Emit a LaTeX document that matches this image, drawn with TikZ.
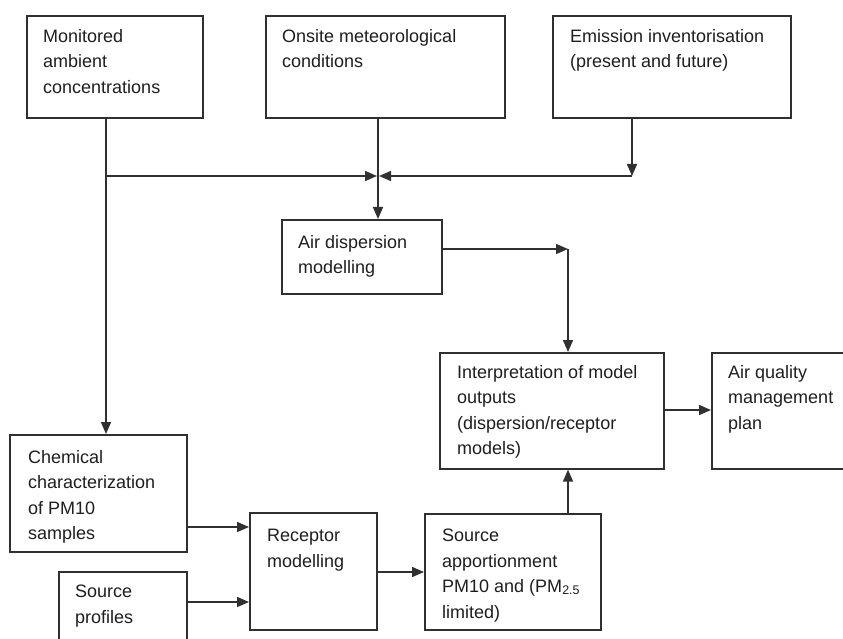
\documentclass[tikz,border=0pt]{standalone}
\usepackage{fontspec}
\setmainfont{Liberation Sans}
\usetikzlibrary{arrows.meta,calc}
\definecolor{lc}{HTML}{303030}
\definecolor{tc}{HTML}{1e1e1e}
\begin{document}
\begin{tikzpicture}[x=1pt,y=-1pt,
  box/.style={draw=lc,line width=1.6pt,anchor=north west,inner sep=0pt,minimum width=#1},
  lbl/.style={anchor=north west,inner sep=0pt,align=left,text=tc,font=\fontsize{18}{25.5}\selectfont},
  arr/.style={draw=lc,line width=1.6pt,-{Triangle[length=12pt,width=10pt]}},
  ln/.style={draw=lc,line width=1.6pt}]
\useasboundingbox (0,0) rectangle (843,639);
\clip (0,0) rectangle (843,639);
% boxes
\node[box=176pt,minimum height=102pt] (mon) at (26,15) {};
\node[box=239pt,minimum height=102pt] (ons) at (265,15) {};
\node[box=238pt,minimum height=102pt] (emi) at (552,15) {};
\node[box=160pt,minimum height=74pt] (air) at (281,219) {};
\node[box=224pt,minimum height=116pt] (int) at (439,352) {};
\node[box=150pt,minimum height=116pt] (aqm) at (711,352) {};
\node[box=177pt,minimum height=117pt] (chem) at (9,434) {};
\node[box=128pt,minimum height=90pt] (src) at (58,571) {};
\node[box=127pt,minimum height=117pt] (rec) at (249,512) {};
\node[box=176pt,minimum height=116pt] (sa) at (424,513) {};
% labels
\node[lbl] (monT) at (43,29) {Monitored\\ambient\\concentrations};
\node[lbl] (onsT) at (282,29) {Onsite meteorological\\conditions};
\node[lbl] (emiT) at (570,29) {Emission inventorisation\\(present and future)};
\node[lbl] (airT) at (298,235) {Air dispersion\\modelling};
\node[lbl] (intT) at (457,365) {Interpretation of model\\outputs\\(dispersion/receptor\\models)};
\node[lbl] (aqmT) at (728,365) {Air quality\\management\\plan};
\node[lbl] (chemT) at (28,450) {Chemical\\characterization\\of PM10\\samples};
\node[lbl] (srcT) at (75,585) {Source\\profiles};
\node[lbl] (recT) at (267,529) {Receptor\\modelling};
\node[lbl] (saT) at (442,529) {Source\\apportionment\\PM10 and (PM\raisebox{-2pt}{\fontsize{12.5}{12.5}\selectfont 2.5}\\limited)};
% junction coordinates
\coordinate (jm) at (106,176);
\coordinate (jc) at (378,176);
\coordinate (je) at (632,176);
\coordinate (ja) at (568,249);
% connectors
\draw[ln] (jm |- mon.south) -- (jm);
\draw[arr] (jm) -- ($(jc)+(-1,0)$);
\draw[arr] (je |- emi.south) -- (je);
\draw[arr] (je) -- ($(jc)+(1,0)$);
\draw[arr] (jc |- ons.south) -- (jc |- air.north);
\draw[arr] (jm) -- (jm |- chem.north);
\draw[arr] (air.east |- ja) -- (ja);
\draw[arr] (ja) -- (ja |- int.north);
\draw[arr] (int.east |- 0,410) -- (aqm.west |- 0,410);
\draw[arr] (chem.east |- 0,527) -- (rec.west |- 0,527);
\draw[arr] (src.east |- 0,602) -- (rec.west |- 0,602);
\draw[arr] (rec.east |- 0,572) -- (sa.west |- 0,572);
\draw[arr] (ja |- sa.north) -- (ja |- int.south);
\end{tikzpicture}
\end{document}
